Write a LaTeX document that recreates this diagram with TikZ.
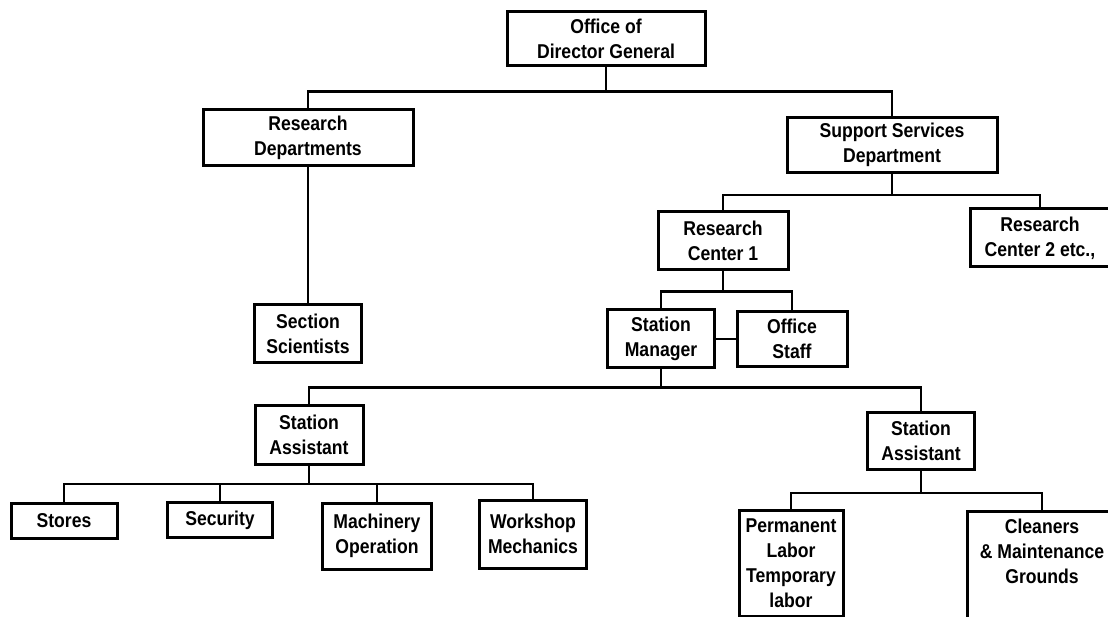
\documentclass[tikz,border=0pt]{standalone}
\usepackage{fontspec}
\setmainfont{Liberation Sans}[FakeStretch=0.88]
\usepackage{tikz}
\usetikzlibrary{calc}

\tikzset{
    box/.style={draw,line width=3pt,align=center,inner sep=3pt,
        font=\fontsize{20}{25}\selectfont\bfseries},
    link/.style={line width=2.8pt}
}

\begin{document}
\begin{tikzpicture}[x=1pt,y=-1pt]
    \clip (0,0) rectangle (1108,617) ;
    % top of the chart
    \node (dg) at (606,39) [box,minimum width=198,minimum height=54] {Office of\\Director General} ;
    \node (rd) at (308,138) [box,minimum width=210,minimum height=56] {Research\\Departments} ;
    \node (ssd) at (892,145) [box,minimum width=210,minimum height=55] {Support Services\\Department} ;
    \coordinate (j1) at ($(dg.south)+(0,24)$) ;
    \draw[link] (dg.south) -- (j1) ;
    \draw[link] (rd.north) |- (j1) -| (ssd.north) ;
    % research centers
    \node (rc1) at (723,241) [box,minimum width=130,minimum height=58] {Research\\Center 1} ;
    \node (rc2) at (1040,238) [box,minimum width=140,minimum height=58] {Research\\Center 2 etc.,} ;
    \coordinate (j2) at ($(ssd.south)+(0,21)$) ;
    \draw[link] (ssd.south) -- (j2) ;
    \draw[link] (rc1.north) |- (j2) -| (rc2.north) ;
    \node (sci) at (308,334) [box,minimum width=107,minimum height=58] {Section\\Scientists} ;
    \draw[link] (rd.south) -- (sci.north) ;
    % station level
    \node (sm) at (661,339) [box,minimum width=107,minimum height=58] {Station\\Manager} ;
    \node (os) at (792,339) [box,minimum width=110,minimum height=55] {Office\\Staff} ;
    \coordinate (j3) at ($(rc1.south)+(0,20)$) ;
    \draw[link] (rc1.south) -- (j3) ;
    \draw[link] (sm.north) |- (j3) -| (os.north) ;
    \draw[link] (sm.east) -- (os.west) ;
    \node (saL) at (309,435) [box,minimum width=108,minimum height=59] {Station\\Assistant} ;
    \node (saR) at (921,441) [box,minimum width=107,minimum height=57] {Station\\Assistant} ;
    \coordinate (j4) at ($(sm.south)+(0,18)$) ;
    \draw[link] (sm.south) -- (j4) ;
    \draw[link] (saL.north) |- (j4) -| (saR.north) ;
    % left branch
    \node (st) at (64,521) [box,minimum width=106,minimum height=35] {Stores} ;
    \node (sec) at (220,520) [box,minimum width=105,minimum height=35] {Security} ;
    \node (mach) at (377,536) [box,minimum width=109,minimum height=66] {Machinery\\Operation} ;
    \node (ws) at (533,534) [box,minimum width=107,minimum height=68] {Workshop\\Mechanics} ;
    \coordinate (j5) at ($(saL.south)+(0,18)$) ;
    \draw[link] (saL.south) -- (j5) ;
    \draw[link] (st.north) |- (j5) -| (ws.north) ;
    \draw[link] (sec.north) -- (sec.north |- j5) ;
    \draw[link] (mach.north) -- (mach.north |- j5) ;
    % right branch
    \node (perm) at (791,563) [box,minimum width=104,minimum height=106] {Permanent\\Labor\\Temporary\\labor} ;
    \node (cln) at (1042,510) [box,anchor=north,inner ysep=8pt,minimum width=150,text depth=70pt] {Cleaners\\\& Maintenance\\Grounds} ;
    \coordinate (j6) at ($(saR.south)+(0,22)$) ;
    \draw[link] (saR.south) -- (j6) ;
    \draw[link] (perm.north) |- (j6) -| (cln.north) ;
\end{tikzpicture}
\end{document}
